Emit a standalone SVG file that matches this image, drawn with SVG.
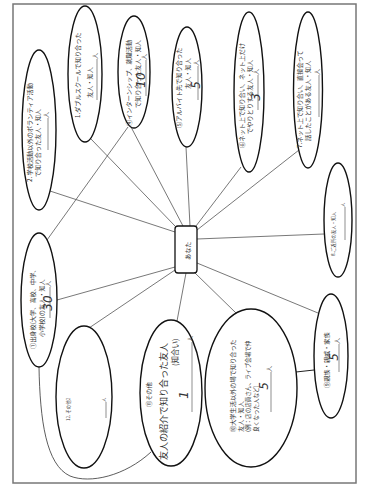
<svg xmlns="http://www.w3.org/2000/svg" width="368" height="493" viewBox="0 0 368 493">
<style>
.bg{fill:#fff}
.frame{fill:none;stroke:#777;stroke-width:1.5}
.el{fill:#fff;stroke:#111;stroke-width:1.4}
.box{fill:#fff;stroke:#111;stroke-width:1.3}
.c{fill:none;stroke:#555;stroke-width:0.8}
.u{stroke:#444;stroke-width:0.6}
.t{font-family:"Noto Sans CJK JP","Noto Sans",sans-serif;font-size:6.2px;fill:#333;dominant-baseline:central;text-anchor:start}
.s{font-size:4.5px}
.h{font-family:"DejaVu Sans",sans-serif;font-style:italic;fill:#333;dominant-baseline:central;text-anchor:middle;font-size:12px}
.hw{font-family:"Noto Sans CJK JP",sans-serif;fill:#333;dominant-baseline:central;text-anchor:start}
</style>
<rect class="bg" x="0" y="0" width="368" height="493"/>
<rect class="frame" x="13" y="4" width="343" height="479"/>
<g id="connectors">
<line class="c" x1="175" y1="226" x2="91" y2="139"/>
<line class="c" x1="183" y1="226" x2="131" y2="127"/>
<line class="c" x1="190" y1="226" x2="186" y2="147"/>
<line class="c" x1="196" y1="226" x2="241" y2="167"/>
<line class="c" x1="197" y1="230" x2="299" y2="150"/>
<line class="c" x1="197" y1="239" x2="324" y2="234"/>
<line class="c" x1="197" y1="263" x2="318" y2="313"/>
<line class="c" x1="195" y1="273" x2="236" y2="313"/>
<line class="c" x1="186" y1="273" x2="177" y2="321"/>
<line class="c" x1="175" y1="270" x2="89" y2="328"/>
<line class="c" x1="175" y1="267" x2="57" y2="300"/>
<line class="c" x1="175" y1="232" x2="50" y2="191"/>
<line class="c" x1="47" y1="240" x2="128" y2="127"/>
<line class="c" x1="296" y1="372" x2="314" y2="370" style="stroke:#222;stroke-width:1"/>
<path class="c" d="M39,367 C40,420 46,465 70,476 C90,484 125,476 151,452" style="stroke:#333"/>
</g>
<g id="you">
<rect class="box" x="175" y="226" width="22" height="47" rx="3"/>
<text class="t" transform="translate(187,260) rotate(-90)">あなた</text>
</g>
<g id="n1-double-school">
<ellipse class="el" cx="85" cy="74" rx="17" ry="68"/>
<text class="t" transform="translate(77,118) rotate(-90)">1.ダブルスクールで知り合った</text>
<text class="t" transform="translate(89,98) rotate(-90)">友人・知人</text>
<line class="u" x1="97" y1="100" x2="97" y2="59"/>
<text class="t" transform="translate(94,59) rotate(-90)">人</text>
</g>
<g id="n4-internship">
<ellipse class="el" cx="134" cy="72" rx="16" ry="56"/>
<text class="t" transform="translate(128,126) rotate(-90)">④インターンシップ、就職活動</text>
<text class="t" transform="translate(137,108) rotate(-90)">で知り合った友人・知人</text>
<line class="u" x1="146" y1="96" x2="146" y2="60"/>
<text class="t" transform="translate(143,60) rotate(-90)">人</text>
<text class="h" transform="translate(141,80) rotate(-90)">10</text>
</g>
<g id="n5-part-time">
<ellipse class="el" cx="187" cy="87" rx="15" ry="60"/>
<text class="t" transform="translate(178,128) rotate(-90)">⑤アルバイト先で知り合った</text>
<text class="t" transform="translate(187,89) rotate(-90)">友人・知人</text>
<line class="u" x1="198" y1="100" x2="198" y2="66"/>
<text class="t" transform="translate(195,66) rotate(-90)">人</text>
<text class="h" transform="translate(196,85) rotate(-90)">5</text>
</g>
<g id="n6-online">
<ellipse class="el" cx="249" cy="92" rx="15" ry="80"/>
<text class="t" transform="translate(241,148) rotate(-90)">⑥ネット上で知り合い、ネット上だけ</text>
<text class="t" transform="translate(249,134) rotate(-90)">でやりとりする友人・知人</text>
<line class="u" x1="258" y1="110" x2="258" y2="75"/>
<text class="t" transform="translate(255,75) rotate(-90)">人</text>
<text class="h" transform="translate(256,97) rotate(-90)">3</text>
</g>
<g id="n7-online-met">
<ellipse class="el" cx="308" cy="90" rx="14.5" ry="78"/>
<text class="t" transform="translate(299,148) rotate(-90)">7.ネット上で知り合い、直接会って</text>
<text class="t" transform="translate(307,141) rotate(-90)">話したことがある友人・知人</text>
<line class="u" x1="319" y1="117" x2="319" y2="75"/>
<text class="t" transform="translate(316,75) rotate(-90)">人</text>
</g>
<g id="n8-neighbors">
<ellipse class="el" cx="338" cy="220" rx="14" ry="57"/>
<text class="t s" transform="translate(333,256) rotate(-90)">8.ご近所の友人・知人</text>
<line class="u" x1="345" y1="240" x2="345" y2="207"/>
<text class="t s" transform="translate(342,207) rotate(-90)">人</text>
</g>
<g id="n9-family">
<ellipse class="el" cx="331" cy="356" rx="17" ry="62"/>
<text class="t" transform="translate(326,388) rotate(-90)">⑨親族・親戚・家族</text>
<line class="u" x1="339" y1="372" x2="339" y2="344"/>
<text class="t" transform="translate(336,344) rotate(-90)">人</text>
<text class="h" transform="translate(334,357) rotate(-90)">5</text>
</g>
<g id="n10-outside-university">
<ellipse class="el" cx="251" cy="388" rx="46" ry="79"/>
<text class="t" transform="translate(232,432) rotate(-90)">⑩大学生活以外の場で知り合った</text>
<text class="t" transform="translate(240,432) rotate(-90)">友人・知人</text>
<text class="t" style="font-size:5.6px" transform="translate(248,432) rotate(-90)">(例：店の店員さん、ライブ会場で仲</text>
<text class="t" style="font-size:5.6px" transform="translate(256,432) rotate(-90)">良くなった人など)</text>
<line class="u" x1="271" y1="412" x2="271" y2="372"/>
<text class="t" transform="translate(268,372) rotate(-90)">人</text>
<text class="h" transform="translate(264,386) rotate(-90)">5</text>
</g>
<g id="n11-other">
<ellipse class="el" cx="171" cy="393" rx="31" ry="73"/>
<text class="t" transform="translate(148,407) rotate(-90)">⑪その他</text>
<text class="hw" style="font-size:9px" transform="translate(163,460) rotate(-90)">友人の紹介で知り合った友人</text>
<text class="hw" style="font-size:7.5px" transform="translate(174,366) rotate(-90)">(知合い)</text>
<line class="u" x1="192" y1="412" x2="192" y2="342"/>
<text class="t" transform="translate(189,342) rotate(-90)">人</text>
<text class="h" transform="translate(184,395) rotate(-90)">1</text>
</g>
<g id="n12-other2">
<ellipse class="el" cx="84" cy="397" rx="28" ry="71"/>
<text class="t s" transform="translate(68,421) rotate(-90)">12. その他2</text>
<line class="u" x1="106" y1="418" x2="106" y2="402"/>
<text class="t s" transform="translate(103,402) rotate(-90)">人</text>
</g>
<g id="n1-alma-mater">
<ellipse class="el" cx="39" cy="300" rx="18" ry="67"/>
<text class="t" transform="translate(32,349) rotate(-90)">①出身校(大学、高校、中学、</text>
<text class="t" transform="translate(41,337) rotate(-90)">小学校)の友人・知人</text>
<line class="u" x1="50" y1="318" x2="50" y2="287"/>
<text class="t" transform="translate(47,287) rotate(-90)">人</text>
<text class="h" transform="translate(48,303) rotate(-90)">30</text>
</g>
<g id="n2-volunteer">
<ellipse class="el" cx="39" cy="130" rx="17" ry="80"/>
<text class="t" transform="translate(29,182) rotate(-90)">2. 学校活動以外のボランティア活動</text>
<text class="t" transform="translate(37,177) rotate(-90)">で知り合った友人・知人</text>
<line class="u" x1="48" y1="150" x2="48" y2="118"/>
<text class="t" transform="translate(45,118) rotate(-90)">人</text>
</g>
</svg>
